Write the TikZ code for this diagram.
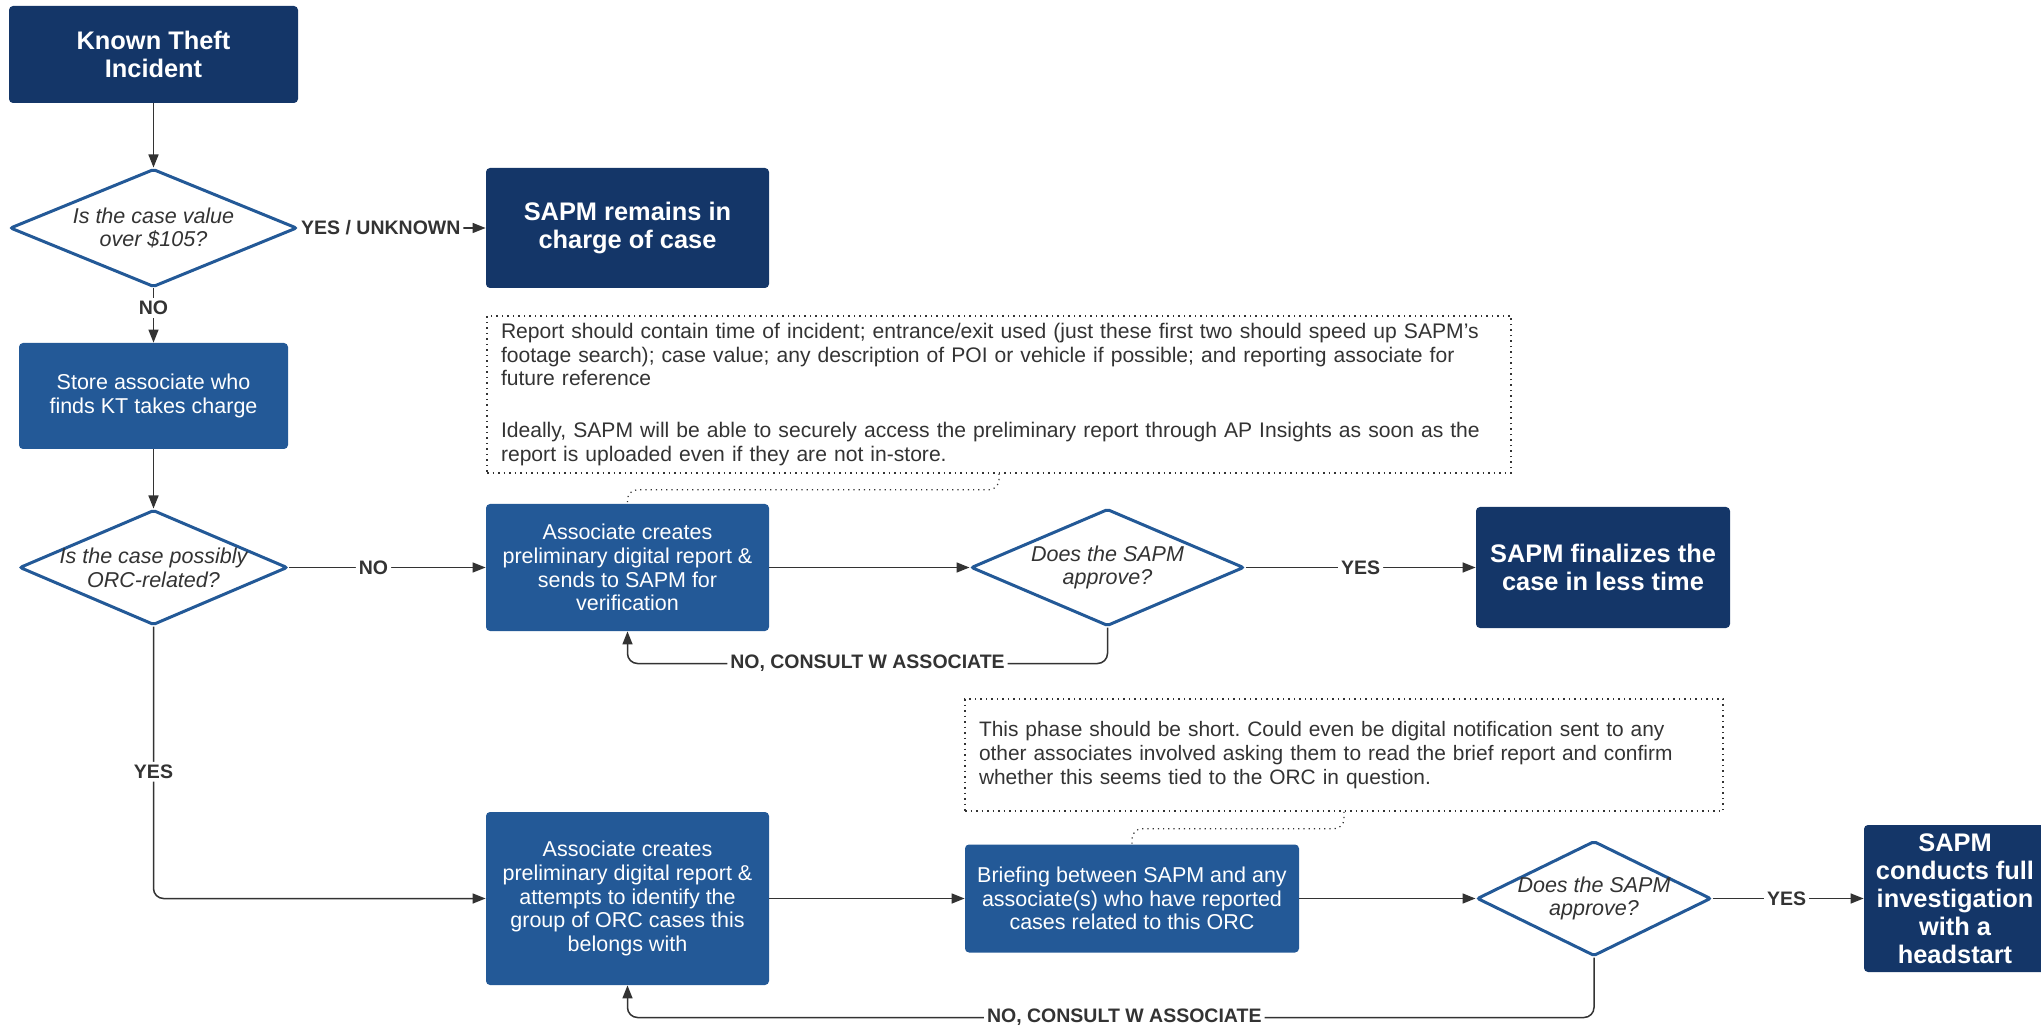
\documentclass[tikz,border=0pt]{standalone}
\usepackage{fontspec}
\setmainfont{Liberation Sans}
\usetikzlibrary{shapes.geometric,arrows.meta}
\definecolor{navy}{RGB}{20,54,104}
\definecolor{midblue}{RGB}{35,89,151}
\definecolor{ink}{RGB}{51,51,51}
\frenchspacing
\begin{document}
\begin{tikzpicture}[x=0.5pt,y=-0.5pt,
  darkbox/.style={rectangle, rounded corners=2pt, fill=navy, text=white, align=center, inner sep=0pt, font=\fontsize{12.7pt}{14pt}\selectfont\bfseries},
  bluebox/.style={rectangle, rounded corners=2pt, fill=midblue, text=white, align=center, inner sep=0pt, font=\fontsize{10.75pt}{11.9pt}\selectfont},
  dia/.style={diamond, draw=midblue, line width=1.5pt, fill=white, inner sep=0pt, rounded corners=1pt},
  dtext/.style={align=center, text=ink, font=\fontsize{10.75pt}{11.9pt}\selectfont\itshape, inner sep=0pt},
  notebox/.style={rectangle, draw=ink, dotted, line width=0.75pt, align=left, text=ink, inner xsep=7pt, inner ysep=0pt},
  conn/.style={draw=ink, line width=0.75pt, -{Triangle[length=6.5pt,width=5pt]}, rounded corners=5pt},
  lbl/.style={fill=white, text=ink, inner sep=1.5pt, font=\fontsize{9.75pt}{11pt}\selectfont\bfseries},
  dotconn/.style={draw=ink, dotted, line width=0.6pt, rounded corners=5pt}
]
\useasboundingbox (0,0) rectangle (2041,1026);

% nodes
\node[darkbox, minimum width=144.5pt, minimum height=48.5pt] (kt) at (153.5,54.5) {Known Theft\\Incident};
\node[dia, minimum width=143.5pt, minimum height=59pt] (d1) at (153.5,228) {};
\node[dtext] (d1t) at (d1) {Is the case value\\over \$105?};
\node[darkbox, minimum width=141.5pt, minimum height=60pt] (sapm1) at (627.5,228) {SAPM remains in\\charge of case};
\node[bluebox, minimum width=134.5pt, minimum height=53pt] (store) at (153.5,396) {Store associate who\\finds KT takes charge};
\node[dia, minimum width=134pt, minimum height=57.5pt] (d2) at (153.5,567.5) {};
\node[dtext] (d2t) at (d2) {Is the case possibly\\ORC-related?};

\node[notebox, text width=498pt, minimum height=78.5pt, font=\fontsize{10.55pt}{11.9pt}\selectfont] (note1) at (999,394.5) {\mbox{Report should contain time of incident; entrance/exit used (just these first two should speed up SAPM's}\\\mbox{footage search); case value; any description of POI or vehicle if possible; and reporting associate for}\\\mbox{future reference}\\[14pt]\mbox{Ideally, SAPM will be able to securely access the preliminary report through AP Insights as soon as the}\\\mbox{report is uploaded even if they are not in-store.}};

\node[bluebox, minimum width=141.5pt, minimum height=63.5pt] (b1) at (627.5,567.5) {Associate creates\\preliminary digital report \&\\sends to SAPM for\\verification};
\node[dia, minimum width=136.5pt, minimum height=58.5pt] (d3) at (1107.5,567.5) {};
\node[dtext] (d3t) at (d3) {Does the SAPM\\approve?};
\node[darkbox, minimum width=127pt, minimum height=60.5pt] (fin) at (1603,567.5) {SAPM finalizes the\\case in less time};

\node[notebox, text width=365pt, minimum height=56pt, font=\fontsize{10.45pt}{11.9pt}\selectfont] (note2) at (1344,755) {\mbox{This phase should be short. Could even be digital notification sent to any}\\\mbox{other associates involved asking them to read the brief report and confirm}\\\mbox{whether this seems tied to the ORC in question.}};

\node[bluebox, minimum width=141.5pt, minimum height=86.5pt] (b2) at (627.5,898.5) {Associate creates\\preliminary digital report \&\\attempts to identify the\\group of ORC cases this\\belongs with};
\node[bluebox, minimum width=167pt, minimum height=54pt] (brief) at (1132,898.5) {Briefing between SAPM and any\\associate(s) who have reported\\cases related to this ORC};
\node[dia, minimum width=117pt, minimum height=57.5pt] (d4) at (1594,898.5) {};
\node[dtext] (d4t) at (d4) {Does the SAPM\\approve?};
\node[darkbox, minimum width=91pt, minimum height=73.5pt] (conducts) at (1955,898.5) {SAPM\\conducts full\\investigation\\with a\\headstart};

% connectors
\draw[conn] (kt.south) -- (d1.north);
\draw[conn] (d1.east) -- node[lbl,pos=0.44]{YES / UNKNOWN} (sapm1.west);
\draw[conn] (d1.south) -- node[lbl,pos=0.36]{NO} (store.north);
\draw[conn] (store.south) -- (d2.north);
\draw[conn] (d2.east) -- node[lbl,pos=0.43]{NO} (b1.west);
\draw[conn] (b1.east) -- (d3.west);
\draw[conn] (d3.east) -- node[lbl,pos=0.5]{YES} (fin.west);
\draw[conn] (d3.south) -- ++(0,36) -| node[lbl,pos=0.25]{NO, CONSULT W ASSOCIATE} (b1.south);
\draw[conn] (d2.south) |- node[lbl,pos=0.267]{YES} (b2.west);
\draw[conn] (b2.east) -- (brief.west);
\draw[conn] (brief.east) -- (d4.west);
\draw[conn] (d4.east) -- node[lbl,pos=0.49]{YES} (conducts.west);
\draw[conn] (d4.south) -- ++(0,60) -| node[lbl,pos=0.243]{NO, CONSULT W ASSOCIATE} (b2.south);

\draw[dotconn] (note1.south) -- ++(0,16) -| (b1.north);
\draw[dotconn] (note2.south) -- ++(0,17) -| (brief.north);
\end{tikzpicture}
\end{document}
